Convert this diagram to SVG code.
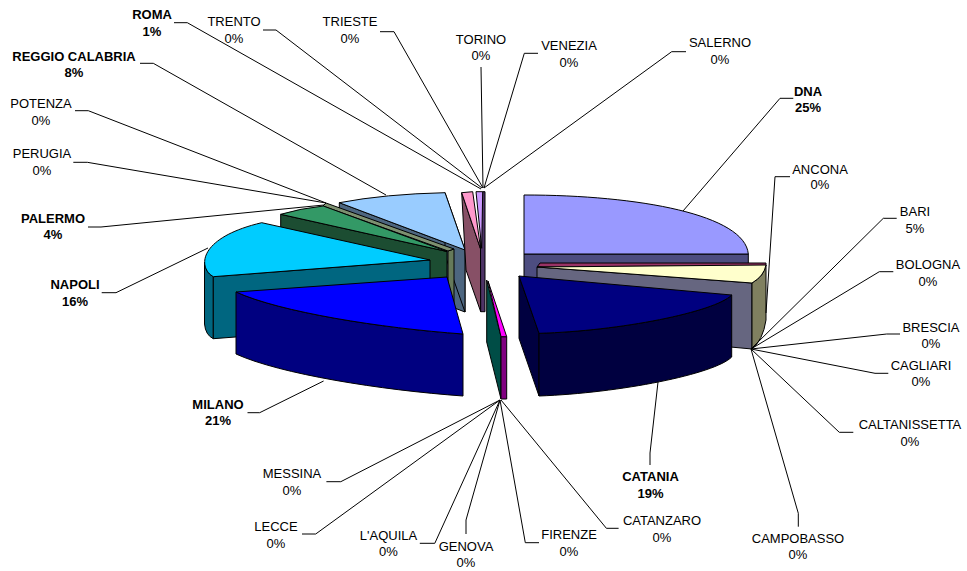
<svg xmlns="http://www.w3.org/2000/svg" width="967" height="571" viewBox="0 0 967 571">
<style>
text{font-family:"Liberation Sans",Arial,sans-serif;font-size:13px;fill:#000;text-anchor:middle}
.b{font-weight:bold}
.f{stroke:#000;stroke-width:1;stroke-linejoin:round}
.ld{fill:none;stroke:#000;stroke-width:1}
</style>
<rect width="967" height="571" fill="#fff"/>

<g id="slice-dna">
<path class="f" fill="#4D4D80" d="M524,254 L748.3,254 L748.3,316 L524,316 Z"/>
<path class="f" fill="#9999FF" d="M524,195 C640,195 745,215 748.3,254 L524,254 Z"/>
<text class="b" x="808" y="95.7">DNA<tspan x="808" y="112">25%</tspan></text>
</g>

<g id="slice-reggio-calabria">
<path class="f" fill="#4D6680" d="M339.3,202.7 L465,250 L465,312 L339.3,264.7 Z"/>
<path class="f" fill="#4D6680" d="M445,192.7 L465,250 L465,312 L445,255 Z"/>
<path class="f" fill="#99CCFF" d="M339.3,202.7 Q385,194 445,192.7 L465,250 Z"/>
<text class="b" x="74" y="60.7">REGGIO CALABRIA<tspan x="74" y="77.4">8%</tspan></text>
</g>

<g id="slice-roma">
<path class="f" fill="#875066" d="M461.7,192.7 L480.7,249.3 L480.7,311.7 L466,270 Z"/>
<path class="f" fill="#FF99CC" d="M461.7,192.7 L472.7,191.7 L480.7,249.3 Z"/>
<text class="b" x="152" y="18.5">ROMA<tspan x="152" y="36">1%</tspan></text>
</g>

<g id="slice-torino-venezia">
<path class="f" fill="#4D3366" d="M480.5,248 L482.7,191.7 L485,191.7 L485,311.7 L480.7,311.7 Z"/>
<path class="f" fill="#CC99FF" d="M476,191.7 L482.7,191.7 L481.7,248.3 Z"/>
</g>

<g id="slice-perugia-potenza">
<path class="f" fill="#667A5A" d="M448,251 L454,249 L454,311 L448,313 Z"/>
<path class="f" fill="#7D9070" d="M326,203 L454,249 L448,251 L323,206 Z"/>
</g>

<g id="slice-palermo">
<path class="f" fill="#1C4D32" d="M280.7,214.3 L447,251.5 L447,313.5 L280.7,276.3 Z"/>
<path class="f" fill="#339966" d="M280.7,214.3 Q300,208.5 323.3,206 L447,251.5 Z"/>
<text class="b" x="53" y="222.7">PALERMO<tspan x="53" y="239.2">4%</tspan></text>
</g>

<g id="slice-napoli">
<path class="f" fill="#006680" d="M204.5,262 Q205.5,273 213.3,276.7 L213.3,338.7 Q205.5,335 204.5,324 Z"/>
<path class="f" fill="#006680" d="M213.3,276.7 L430,260 L430,322 L213.3,338.7 Z"/>
<path class="f" fill="#00CCFF" d="M261.7,222.7 L430,260 L213.3,276.7 C198,268 197,238 261.7,222.7 Z"/>
<text class="b" x="75" y="289.4">NAPOLI<tspan x="75" y="306">16%</tspan></text>
</g>

<g id="slice-milano">
<path class="f" fill="#000080" d="M236,292 C280,312 380,328 463,334 L463,396 C380,390 280,374 236,354 Z"/>
<path class="f" fill="#0000FF" d="M236,292 L447,277 L463,334 C380,328 280,312 236,292 Z"/>
<text class="b" x="218" y="408.7">MILANO<tspan x="218" y="425.4">21%</tspan></text>
</g>

<g id="slice-bari">
<path class="f" fill="#993366" d="M540,263 L766,263 L766,265.5 L537,267 Z"/>
<path class="f" fill="#666680" d="M537,267 L752,283 L752,349 L537,329 Z"/>
<path class="f" fill="#808060" d="M752,283 Q764,276 766,265 L766,320 Q763,340 752,349 Z"/>
<path class="f" fill="#FFFFCC" d="M537,267 L766,265 Q764,276 752,283 Z"/>
<text x="915" y="215.7">BARI<tspan x="915" y="232.7">5%</tspan></text>
</g>

<g id="slice-catania">
<path class="f" fill="#000040" d="M519,276 L539,333.3 L539,396 L519,338.3 Z"/>
<path class="f" fill="#000040" d="M539,333.3 C620,331 715,312 731.7,295 L731.7,357 C715,374 620,393 539,396 Z"/>
<path class="f" fill="#000080" d="M519,276 L731.7,295 C715,312 620,331 539,333.3 Z"/>
<text class="b" x="650.5" y="481.4">CATANIA<tspan x="650.5" y="497.7">19%</tspan></text>
</g>

<g id="slice-catanzaro-firenze">
<path class="f" fill="#004D46" d="M486.7,280 L501,336.7 L501,399 L486.7,342 Z"/>
<path class="f" fill="#800080" d="M501,336.7 L506.7,336.7 L506.7,399 L501,399 Z"/>
<path class="f" fill="#FF00FF" d="M488,281 L506.7,336.7 L501,336.7 Z"/>
</g>

<g id="label-trento"><text x="234" y="26">TRENTO<tspan x="234" y="43">0%</tspan></text></g>
<g id="label-trieste"><text x="350" y="26">TRIESTE<tspan x="350" y="43">0%</tspan></text></g>
<g id="label-torino"><text x="481" y="43.7">TORINO<tspan x="481" y="59.7">0%</tspan></text></g>
<g id="label-venezia"><text x="569" y="50.4">VENEZIA<tspan x="569" y="66.7">0%</tspan></text></g>
<g id="label-salerno"><text x="720" y="47">SALERNO<tspan x="720" y="64.4">0%</tspan></text></g>
<g id="label-ancona"><text x="820" y="173.7">ANCONA<tspan x="820" y="189.4">0%</tspan></text></g>
<g id="label-bologna"><text x="928" y="268.7">BOLOGNA<tspan x="928" y="285.5">0%</tspan></text></g>
<g id="label-brescia"><text x="931" y="331.7">BRESCIA<tspan x="931" y="348.2">0%</tspan></text></g>
<g id="label-cagliari"><text x="921" y="369.7">CAGLIARI<tspan x="921" y="386.2">0%</tspan></text></g>
<g id="label-caltanissetta"><text x="910" y="429.2">CALTANISSETTA<tspan x="910" y="445.7">0%</tspan></text></g>
<g id="label-campobasso"><text x="798" y="542.7">CAMPOBASSO<tspan x="798" y="559.2">0%</tspan></text></g>
<g id="label-catanzaro"><text x="662" y="525.2">CATANZARO<tspan x="662" y="541.7">0%</tspan></text></g>
<g id="label-firenze"><text x="569" y="539.2">FIRENZE<tspan x="569" y="555.7">0%</tspan></text></g>
<g id="label-genova"><text x="466" y="550.7">GENOVA<tspan x="466" y="567.2">0%</tspan></text></g>
<g id="label-laquila"><text x="388.5" y="539.7">L'AQUILA<tspan x="388.5" y="556.4">0%</tspan></text></g>
<g id="label-lecce"><text x="276" y="531.4">LECCE<tspan x="276" y="547.7">0%</tspan></text></g>
<g id="label-messina"><text x="292" y="478">MESSINA<tspan x="292" y="494.7">0%</tspan></text></g>
<g id="label-perugia"><text x="42" y="158.4">PERUGIA<tspan x="42" y="175">0%</tspan></text></g>
<g id="label-potenza"><text x="41" y="108.4">POTENZA<tspan x="41" y="125">0%</tspan></text></g>

<g id="connectors" class="ld">
<path d="M174,22.7 H187.3 L481,189"/>
<path d="M263,30 H276 L482,188"/>
<path d="M380,31.7 H394 L483,188"/>
<path d="M481,67 L483,188"/>
<path d="M538,53.3 H524.3 L484,188"/>
<path d="M686,51.7 H671.7 L484,188"/>
<path d="M140,63.3 H153.3 L386,195"/>
<path d="M75,110.7 H88.3 L326,203"/>
<path d="M73.3,162.3 H87.3 L326,203"/>
<path d="M88,227 H101 L324,205"/>
<path d="M101.7,292.7 H116 L208,248"/>
<path d="M247.5,412.7 H259.7 L323.6,381"/>
<path d="M793.3,98.3 H780 L683,211"/>
<path d="M790,176.7 H775 L766,313"/>
<path d="M896.7,218.3 H883.3 L751,349"/>
<path d="M893.3,271.7 H879.3 L751,349"/>
<path d="M900,334 H886.7 L751,349"/>
<path d="M888.3,373.3 H875 L751,349"/>
<path d="M853.3,432.3 H839.3 L751,349"/>
<path d="M798.3,526.7 V513.3 L751,349"/>
<path d="M650,465 V453 L658,382"/>
<path d="M618.6,528.3 H606.4 L501,400"/>
<path d="M539,542.7 H525.3 L500,400"/>
<path d="M466,534 V520 L500,400"/>
<path d="M419.8,543.3 H434.8 L500,400"/>
<path d="M302,534 H315.7 L500,400"/>
<path d="M326.4,481.7 H340.8 L500,400"/>
</g>
</svg>
